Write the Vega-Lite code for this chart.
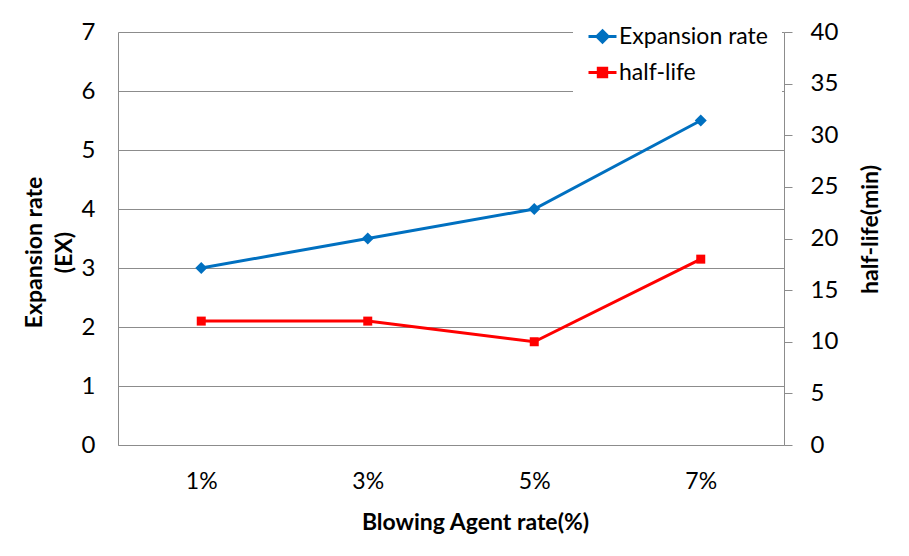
{
  "$schema": "https://vega.github.io/schema/vega-lite/v6.json",
  "width": 666,
  "height": 413,
  "autosize": {"type": "none"},
  "padding": {"left": 118, "top": 32, "right": 125, "bottom": 111},
  "background": "white",
  "config": {
    "font": "Lato",
    "view": {"stroke": null},
    "axis": {"labelFont": "Lato", "titleFont": "Lato", "labelColor": "#000000", "titleColor": "#000000"}
  },
  "data": {
    "values": [
      {"rate": "1%", "series": "Expansion rate", "value": 3},
      {"rate": "3%", "series": "Expansion rate", "value": 3.5},
      {"rate": "5%", "series": "Expansion rate", "value": 4},
      {"rate": "7%", "series": "Expansion rate", "value": 5.5},
      {"rate": "1%", "series": "half-life", "value": 12},
      {"rate": "3%", "series": "half-life", "value": 12},
      {"rate": "5%", "series": "half-life", "value": 10},
      {"rate": "7%", "series": "half-life", "value": 18}
    ]
  },
  "encoding": {
    "x": {
      "field": "rate",
      "type": "ordinal",
      "scale": {"type": "point", "padding": 0.5},
      "axis": {
        "title": "Blowing Agent rate(%)",
        "labelAngle": 0,
        "labelFontSize": 23,
        "labelPadding": 25,
        "ticks": false,
        "tickSize": 0,
        "domainColor": "#8c8c8c",
        "domainWidth": 1,
        "titleFontSize": 23,
        "titleFontWeight": "bold",
        "titleX": 357,
        "titleY": 77,
        "titleBaseline": "middle",
        "titleAlign": "center",
        "grid": false
      }
    }
  },
  "layer": [
    {
      "transform": [{"filter": "datum.series === 'Expansion rate'"}],
      "mark": {"type": "line", "strokeWidth": 3, "point": {"shape": "diamond", "size": 144, "filled": true}},
      "encoding": {
        "y": {
          "field": "value",
          "type": "quantitative",
          "scale": {"domain": [0, 7], "nice": false},
          "axis": {
            "orient": "left",
            "values": [0, 1, 2, 3, 4, 5, 6, 7],
            "title": ["Expansion rate", "(EX)"],
            "titleFontSize": 23,
            "titleFontWeight": "bold",
            "titleAngle": -90,
            "titleX": -84,
            "titleY": 220,
            "titleAlign": "center",
            "titleBaseline": "middle",
            "titleLineHeight": 30,
            "labelFontSize": 24,
            "labelPadding": 23,
            "ticks": false,
            "tickSize": 0,
            "grid": true,
            "gridColor": "#8c8c8c",
            "gridWidth": 1,
            "domainColor": "#8c8c8c"
          }
        },
        "color": {
          "field": "series",
          "type": "nominal",
          "scale": {"domain": ["Expansion rate", "half-life"], "range": ["#0070C0", "#FF0000"]},
          "legend": {
            "title": null,
            "orient": "none",
            "legendX": 455,
            "legendY": -25,
            "padding": 14,
            "fillColor": "white",
            "strokeColor": null,
            "symbolSize": 784,
            "symbolStrokeWidth": 3,
            "labelFont": "Lato",
            "labelFontSize": 23,
            "labelColor": "#000000",
            "labelOffset": 1,
            "rowPadding": 8,
            "encode": {
              "symbols": {
                "update": {
                  "shape": {"signal": "datum.value === 'Expansion rate' ? 'M-1,0L1,0M0,-0.4L0.4,0L0,0.4L-0.4,0Z' : 'M-1,0L1,0M-0.3,-0.3L0.3,-0.3L0.3,0.3L-0.3,0.3Z'"},
                  "fill": {"signal": "datum.value === 'Expansion rate' ? '#0070C0' : '#FF0000'"},
                  "stroke": {"signal": "datum.value === 'Expansion rate' ? '#0070C0' : '#FF0000'"},
                  "strokeWidth": {"value": 3},
                  "size": {"value": 784}
                }
              }
            }
          }
        }
      }
    },
    {
      "transform": [{"filter": "datum.series === 'half-life'"}],
      "mark": {"type": "line", "strokeWidth": 3, "point": {"shape": "square", "size": 81, "filled": true}},
      "encoding": {
        "y": {
          "field": "value",
          "type": "quantitative",
          "scale": {"domain": [0, 40], "nice": false},
          "axis": {
            "orient": "right",
            "values": [0, 5, 10, 15, 20, 25, 30, 35, 40],
            "title": "half-life(min)",
            "titleFontSize": 23,
            "titleFontWeight": "bold",
            "titleAngle": -90,
            "titleX": 86,
            "titleY": 197,
            "titleAlign": "center",
            "titleBaseline": "middle",
            "labelFontSize": 24,
            "labelPadding": 18,
            "ticks": true,
            "tickSize": 8,
            "tickColor": "#8c8c8c",
            "domainColor": "#8c8c8c",
            "grid": false
          }
        },
        "color": {
          "field": "series",
          "type": "nominal",
          "scale": {"domain": ["Expansion rate", "half-life"], "range": ["#0070C0", "#FF0000"]},
          "legend": {
            "title": null,
            "orient": "none",
            "legendX": 455,
            "legendY": -25,
            "padding": 14,
            "fillColor": "white",
            "strokeColor": null,
            "symbolSize": 784,
            "symbolStrokeWidth": 3,
            "labelFont": "Lato",
            "labelFontSize": 23,
            "labelColor": "#000000",
            "labelOffset": 1,
            "rowPadding": 8,
            "encode": {
              "symbols": {
                "update": {
                  "shape": {"signal": "datum.value === 'Expansion rate' ? 'M-1,0L1,0M0,-0.4L0.4,0L0,0.4L-0.4,0Z' : 'M-1,0L1,0M-0.3,-0.3L0.3,-0.3L0.3,0.3L-0.3,0.3Z'"},
                  "fill": {"signal": "datum.value === 'Expansion rate' ? '#0070C0' : '#FF0000'"},
                  "stroke": {"signal": "datum.value === 'Expansion rate' ? '#0070C0' : '#FF0000'"},
                  "strokeWidth": {"value": 3},
                  "size": {"value": 784}
                }
              }
            }
          }
        }
      }
    }
  ],
  "resolve": {"scale": {"y": "independent"}}
}
